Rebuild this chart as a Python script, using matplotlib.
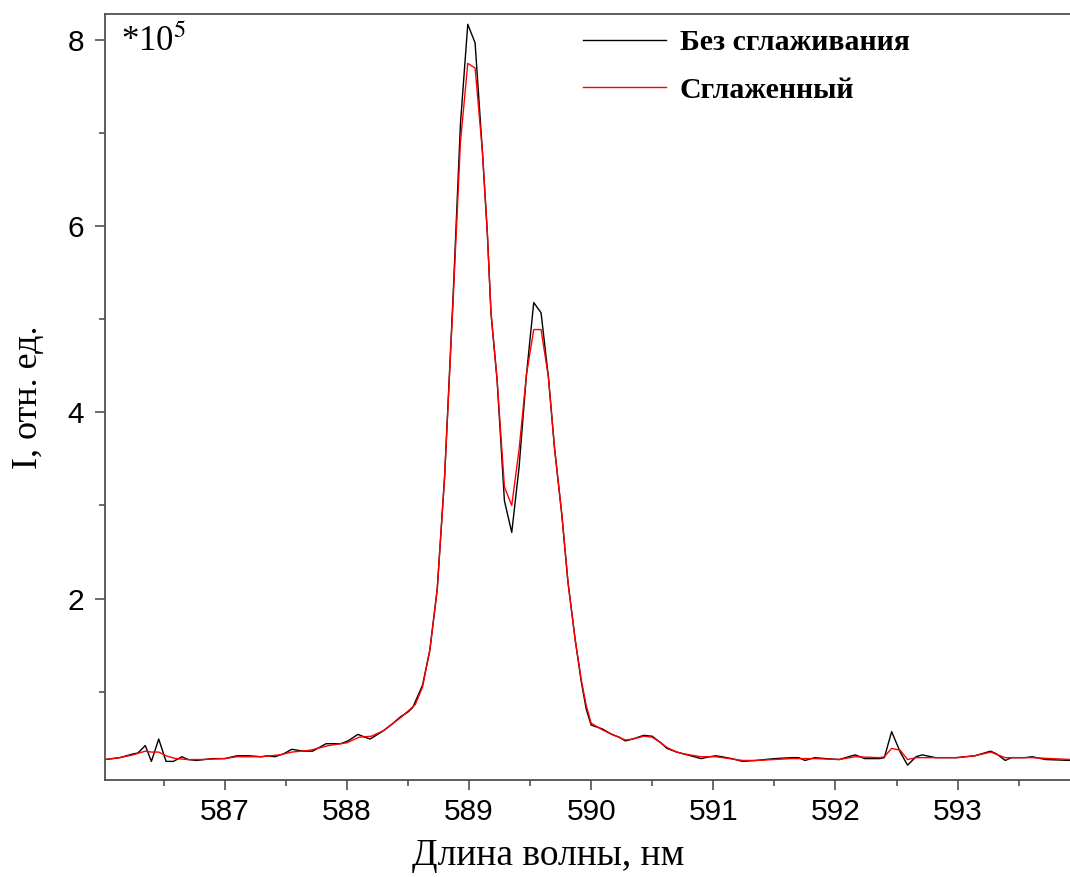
import numpy as np
import matplotlib
matplotlib.use('Agg')
import matplotlib.pyplot as plt
from matplotlib.ticker import MultipleLocator

plt.rcParams['font.family'] = ['Liberation Serif', 'DejaVu Serif']
plt.rcParams['mathtext.fontset'] = 'stix'

# исходный спектр (без сглаживания)
wl_raw = [586.02, 586.14, 586.25, 586.29, 586.35, 586.40, 586.46, 586.52, 586.58, 586.65,
          586.70, 586.77, 586.90, 587.00, 587.10, 587.20, 587.30, 587.35, 587.41, 587.48,
          587.55, 587.64, 587.72, 587.83, 587.95, 588.01, 588.09, 588.15, 588.19, 588.24,
          588.30, 588.37, 588.44, 588.50, 588.54, 588.62, 588.68, 588.74, 588.80, 588.87,
          588.93, 588.99, 589.05, 589.11, 589.15, 589.18, 589.23, 589.29, 589.35, 589.41,
          589.47, 589.53, 589.59, 589.65, 589.70, 589.76, 589.81, 589.87, 589.92, 589.96,
          590.00, 590.09, 590.17, 590.23, 590.28, 590.34, 590.43, 590.50, 590.57, 590.62,
          590.70, 590.76, 590.90, 590.97, 591.02, 591.07, 591.15, 591.24, 591.35, 591.50,
          591.64, 591.70, 591.75, 591.83, 591.92, 592.03, 592.16, 592.24, 592.36, 592.40,
          592.46, 592.53, 592.59, 592.66, 592.71, 592.82, 592.99, 593.14, 593.27, 593.32,
          593.39, 593.44, 593.55, 593.61, 593.72, 593.93]
i_raw = [0.27, 0.29, 0.33, 0.34, 0.42, 0.25, 0.49, 0.25, 0.25, 0.30,
         0.27, 0.26, 0.28, 0.28, 0.31, 0.31, 0.30, 0.31, 0.30, 0.33,
         0.38, 0.36, 0.36, 0.44, 0.44, 0.47, 0.54, 0.51, 0.49, 0.53,
         0.58, 0.65, 0.73, 0.78, 0.83, 1.07, 1.45, 2.10, 3.30, 5.25,
         7.10, 8.17, 7.97, 6.80, 5.93, 5.07, 4.35, 3.05, 2.71, 3.41,
         4.40, 5.18, 5.07, 4.38, 3.62, 2.90, 2.18, 1.55, 1.10, 0.81,
         0.64, 0.60, 0.54, 0.51, 0.47, 0.49, 0.53, 0.52, 0.45, 0.39,
         0.35, 0.33, 0.28, 0.30, 0.31, 0.30, 0.28, 0.25, 0.26, 0.28,
         0.29, 0.29, 0.26, 0.29, 0.28, 0.27, 0.32, 0.28, 0.28, 0.29,
         0.57, 0.35, 0.21, 0.30, 0.32, 0.29, 0.29, 0.31, 0.36, 0.33,
         0.26, 0.29, 0.29, 0.30, 0.27, 0.26]

# сглаженный спектр
wl_smooth = [586.02, 586.14, 586.25, 586.35, 586.40, 586.46, 586.52, 586.60, 586.70, 586.80,
             587.00, 587.10, 587.30, 587.45, 587.55, 587.70, 587.85, 588.00, 588.10, 588.20,
             588.30, 588.37, 588.44, 588.50, 588.56, 588.62, 588.68, 588.74, 588.80, 588.87,
             588.93, 588.99, 589.05, 589.11, 589.15, 589.18, 589.23, 589.29, 589.35, 589.41,
             589.47, 589.53, 589.59, 589.65, 589.70, 589.76, 589.81, 589.87, 589.92, 589.96,
             590.00, 590.09, 590.17, 590.28, 590.34, 590.43, 590.50, 590.57, 590.62, 590.70,
             590.76, 590.90, 591.02, 591.24, 591.35, 591.64, 591.83, 592.03, 592.16, 592.36,
             592.40, 592.46, 592.53, 592.59, 592.66, 592.82, 592.99, 593.14, 593.27, 593.39,
             593.61, 593.93]
i_smooth = [0.27, 0.29, 0.32, 0.36, 0.35, 0.35, 0.31, 0.28, 0.27, 0.27,
            0.28, 0.30, 0.30, 0.32, 0.35, 0.37, 0.42, 0.45, 0.51, 0.52,
            0.58, 0.65, 0.72, 0.79, 0.86, 1.05, 1.45, 2.10, 3.30, 5.20,
            6.90, 7.75, 7.70, 6.80, 5.93, 5.07, 4.35, 3.20, 3.00, 3.60,
            4.40, 4.89, 4.89, 4.38, 3.62, 2.90, 2.18, 1.55, 1.12, 0.85,
            0.66, 0.59, 0.54, 0.48, 0.49, 0.52, 0.51, 0.45, 0.40, 0.35,
            0.33, 0.30, 0.30, 0.26, 0.26, 0.28, 0.28, 0.27, 0.30, 0.29,
            0.30, 0.39, 0.37, 0.27, 0.29, 0.29, 0.29, 0.31, 0.35, 0.29,
            0.29, 0.27]

fig = plt.figure(figsize=(10.7, 8.77), dpi=100)
ax = fig.add_axes([0.0981, 0.1106, 0.9019, 0.8734])

ax.plot(wl_raw, i_raw, color='black', lw=1.0, label='Без сглаживания')
ax.plot(wl_smooth, i_smooth, color='red', lw=1.0, label='Сглаженный')

ax.set_xlim(586.02, 593.92)
ax.set_ylim(0.05, 8.28)

ax.xaxis.set_major_locator(MultipleLocator(1))
ax.xaxis.set_minor_locator(MultipleLocator(0.5))
ax.yaxis.set_major_locator(MultipleLocator(2))
ax.yaxis.set_minor_locator(MultipleLocator(1))

spine_c = '#505050'
for s in ['left', 'bottom', 'top']:
    ax.spines[s].set_color(spine_c)
    ax.spines[s].set_linewidth(1.3)
ax.spines['right'].set_visible(False)

ax.tick_params(which='major', direction='out', length=7, width=1.2, color=spine_c, labelsize=21.5)
ax.tick_params(which='minor', direction='out', length=4, width=1.2, color=spine_c)
ax.tick_params(axis='x', pad=6)
ax.tick_params(axis='y', pad=8)
ax.xaxis.set_major_formatter(plt.FuncFormatter(lambda v, p: '%d' % v))
ax.yaxis.set_major_formatter(plt.FuncFormatter(lambda v, p: '%d' % v))
for lab in ax.get_xticklabels() + ax.get_yticklabels():
    lab.set_family(['Liberation Sans', 'DejaVu Sans'])

ax.set_xlabel('Длина волны, нм', fontsize=27)
ax.set_ylabel('I, отн. ед.', fontsize=26)
ax.xaxis.set_label_coords(0.459, -0.077)
ax.yaxis.set_label_coords(-0.062, 0.5)

ax.text(0.017, 0.985, r'*10$^{5}$', transform=ax.transAxes, fontsize=25,
        ha='left', va='top')

ax.legend(loc='upper left', bbox_to_anchor=(0.495, 0.98), frameon=False,
          prop={'family': 'Liberation Serif', 'weight': 'bold', 'size': 21.5},
          handlelength=2.8, handletextpad=0.45, labelspacing=0.68,
          borderpad=0, borderaxespad=0)

fig.savefig('out.png', dpi=100)
